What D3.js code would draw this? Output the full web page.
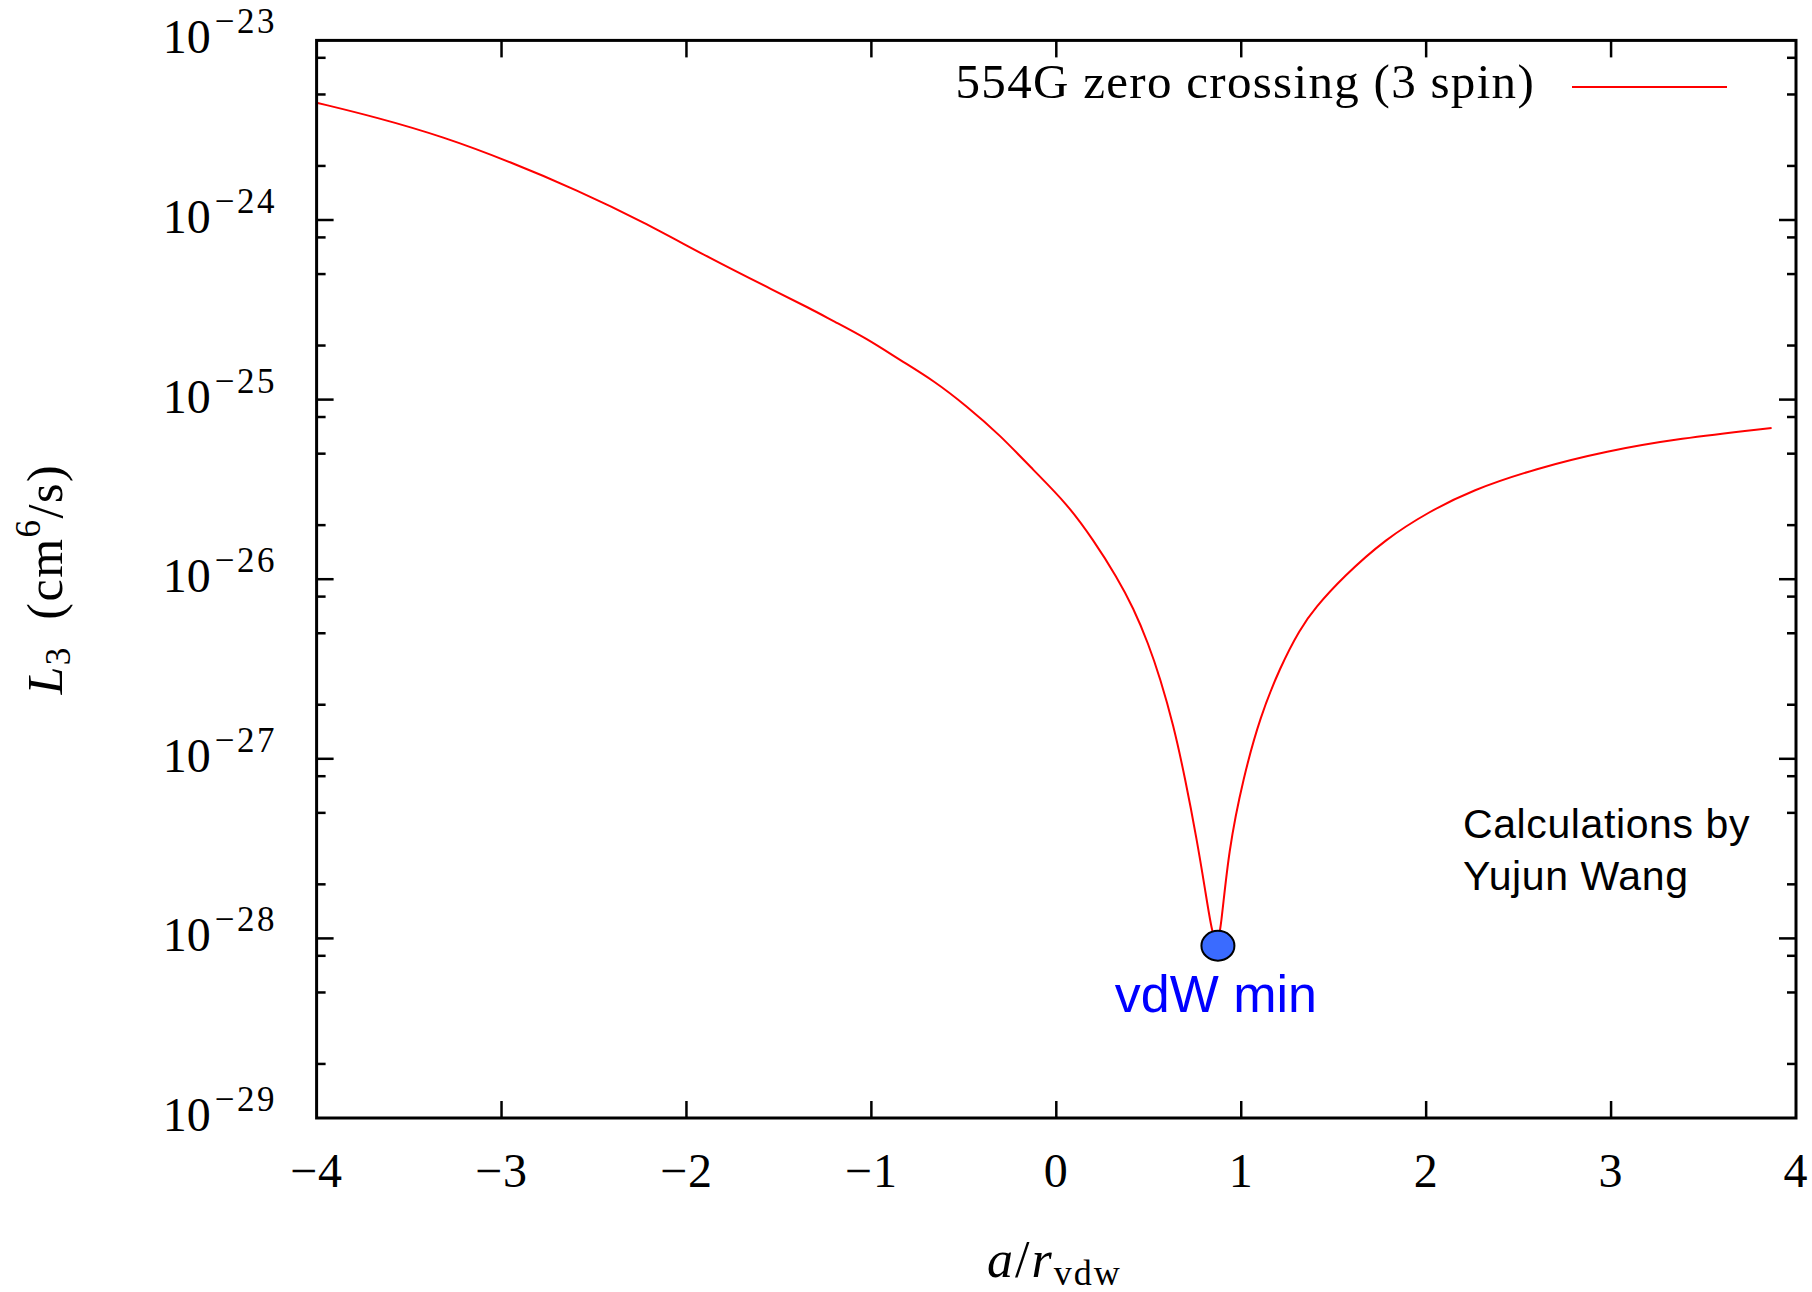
<!DOCTYPE html>
<html>
<head>
<meta charset="utf-8">
<script src="https://cdn.jsdelivr.net/npm/d3@7"></script>
<style>
  html, body { margin: 0; padding: 0; background: #ffffff; }
  svg { display: block; }
</style>
</head>
<body>
<svg id="chart" width="1812" height="1292"></svg>
<script>
// ---- data ----
const aOverR = [-4.0, -3.675, -3.315, -2.954, -2.593, -2.233, -1.872, -1.512, -1.332, -1.206, -1.025, -0.845,
  -0.665, -0.484, -0.304, -0.124, 0.057, 0.201, 0.327, 0.417, 0.498, 0.561, 0.633, 0.697, 0.760, 0.805, 0.836,
  0.866, 0.890, 0.931, 1.012, 1.102, 1.210, 1.319, 1.396, 1.551, 1.782, 2.014, 2.246, 2.593, 2.979, 3.366, 3.868];
const L3 = [4.50e-24, 3.73e-24, 2.91e-24, 2.11e-24, 1.47e-24, 9.77e-25, 6.11e-25, 3.98e-25, 3.22e-25, 2.74e-25,
  2.19e-25, 1.66e-25, 1.28e-25, 9.19e-26, 6.34e-26, 4.05e-26, 2.64e-26, 1.65e-26, 1.03e-26, 6.92e-27, 4.37e-27,
  2.82e-27, 1.55e-27, 7.76e-28, 3.55e-28, 1.86e-28, 1.17e-28, 8.9e-29, 1.11e-28, 3.09e-28, 7.91e-28, 1.71e-27,
  3.24e-27, 5.31e-27, 6.86e-27, 1.03e-26, 1.68e-26, 2.37e-26, 3.13e-26, 4.13e-26, 5.18e-26, 6.07e-26, 6.95e-26];
const vdwMinX = [0.874];
const vdwMinY = [9.1e-29];
const xTicks = [-4, -3, -2, -1, 0, 1, 2, 3, 4];
const xTickLabels = ["\u22124", "\u22123", "\u22122", "\u22121", "0", "1", "2", "3", "4"];
const yDecadeExponents = [-29, -28, -27, -26, -25, -24, -23];
const yTickLabels = ["\u221229", "\u221228", "\u221227", "\u221226", "\u221225", "\u221224", "\u221223"];
const yMinorMultipliers = [2, 5, 8];
const seriesName = "554G zero crossing (3 spin)";
const creditLines = ["Calculations by", "Yujun Wang"];
const markerLabel = "vdW min";

// ---- layout ----
const W = 1812, H = 1292;
const margin = { left: 316.6, right: 16, top: 40.4, bottom: 174 };
const x0 = margin.left, x1 = W - margin.right, y0 = margin.top, y1 = H - margin.bottom;
const serif = "'Liberation Serif', 'DejaVu Serif', serif";
const sans = "'Liberation Sans', Arial, sans-serif";

const svg = d3.select("#chart");
const x = d3.scaleLinear().domain([-4, 4]).range([x0, x1]);
const y = d3.scaleLog().domain([1e-29, 1e-23]).range([y1, y0]);

// clip
svg.append("defs").append("clipPath").attr("id", "clip")
  .append("rect").attr("x", x0).attr("y", y0).attr("width", x1 - x0).attr("height", y1 - y0);

const majorLen = 17, minorLen = 9;
const tickG = svg.append("g").attr("stroke", "#000").attr("stroke-width", 2.5);

// x ticks (bottom and top, inward)
xTicks.forEach(v => {
  const px = x(v);
  if (v > -4 && v < 4) {
    tickG.append("line").attr("x1", px).attr("x2", px).attr("y1", y1).attr("y2", y1 - majorLen);
    tickG.append("line").attr("x1", px).attr("x2", px).attr("y1", y0).attr("y2", y0 + majorLen);
  }
});
// y ticks (left and right, inward)
yDecadeExponents.forEach((e, i) => {
  const v = Math.pow(10, e);
  const py = y(v);
  if (i > 0 && i < yDecadeExponents.length - 1) {
    tickG.append("line").attr("x1", x0).attr("x2", x0 + majorLen).attr("y1", py).attr("y2", py);
    tickG.append("line").attr("x1", x1).attr("x2", x1 - majorLen).attr("y1", py).attr("y2", py);
  }
  if (i < yDecadeExponents.length - 1) {
    yMinorMultipliers.forEach(m => {
      const pm = y(m * v);
      tickG.append("line").attr("x1", x0).attr("x2", x0 + minorLen).attr("y1", pm).attr("y2", pm);
      tickG.append("line").attr("x1", x1).attr("x2", x1 - minorLen).attr("y1", pm).attr("y2", pm);
    });
  }
});

// x tick labels
xTicks.forEach((v, i) => {
  svg.append("text").attr("x", x(v)).attr("y", y1 + 69)
    .attr("text-anchor", "middle").attr("font-family", serif).attr("font-size", 48)
    .attr("letter-spacing", 1)
    .text(xTickLabels[i]);
});
// y tick labels: 10^exp
yDecadeExponents.forEach((e, i) => {
  const py = y(Math.pow(10, e));
  const t = svg.append("text").attr("x", 277).attr("y", py + 13)
    .attr("text-anchor", "end").attr("font-family", serif).attr("font-size", 48);
  t.append("tspan").text("10");
  t.append("tspan").attr("dx", 4).attr("dy", -20).attr("font-size", 35).attr("letter-spacing", 2.5).text(yTickLabels[i]);
});

// curve
const pts = aOverR.map((a, i) => [a, L3[i]]);
const line = d3.line().x(d => x(d[0])).y(d => y(d[1])).curve(d3.curveBasis);
svg.append("path").datum(pts).attr("d", line).attr("clip-path", "url(#clip)")
  .attr("fill", "none").attr("stroke", "#ff0000").attr("stroke-width", 2);

// frame
svg.append("rect").attr("x", x0).attr("y", y0).attr("width", x1 - x0).attr("height", y1 - y0)
  .attr("fill", "none").attr("stroke", "#000").attr("stroke-width", 3);

// vdW min marker
svg.append("ellipse").attr("cx", x(vdwMinX[0])).attr("cy", y(vdwMinY[0]))
  .attr("rx", 16.5).attr("ry", 15).attr("fill", "#3a6bff").attr("stroke", "#000").attr("stroke-width", 2);
svg.append("text").attr("x", x(vdwMinX[0]) - 2).attr("y", y(vdwMinY[0]) + 66)
  .attr("text-anchor", "middle").attr("font-family", sans).attr("font-size", 52)
  .attr("fill", "#0000ff").text(markerLabel);

// credit text
creditLines.forEach((s, i) => {
  svg.append("text").attr("x", 1463).attr("y", 838 + i * 52)
    .attr("font-family", sans).attr("font-size", 41).attr("letter-spacing", 0.6)
    .attr("fill", "#000").text(s);
});

// legend
svg.append("text").attr("x", 1535).attr("y", 98).attr("text-anchor", "end")
  .attr("font-family", serif).attr("font-size", 49).attr("letter-spacing", 1.3).text(seriesName);
svg.append("line").attr("x1", 1572).attr("x2", 1727).attr("y1", 87).attr("y2", 87)
  .attr("stroke", "#ff0000").attr("stroke-width", 2);

// y axis label: L_3 (cm^6/s)
const yl = svg.append("text").attr("transform", "translate(62," + ((y0 + y1) / 2) + ") rotate(-90)")
  .attr("text-anchor", "middle").attr("font-family", serif).attr("font-size", 50)
  .attr("letter-spacing", 1.5);
yl.append("tspan").attr("font-style", "italic").text("L");
yl.append("tspan").attr("font-size", 35).attr("dy", 8).text("3");
yl.append("tspan").attr("dy", -8).text("\u2002(cm");
yl.append("tspan").attr("font-size", 35).attr("dy", -22).text("6");
yl.append("tspan").attr("dy", 22).text("/s)");

// x axis label: a/r_vdw
const xl = svg.append("text").attr("x", (x0 + x1) / 2 - 2).attr("y", 1277)
  .attr("text-anchor", "middle").attr("font-family", serif).attr("font-size", 52)
  .attr("letter-spacing", 2);
xl.append("tspan").attr("font-style", "italic").text("a");
xl.append("tspan").text("/");
xl.append("tspan").attr("font-style", "italic").text("r");
xl.append("tspan").attr("font-size", 36).attr("dy", 8).text("vdw");
</script>
</body>
</html>
